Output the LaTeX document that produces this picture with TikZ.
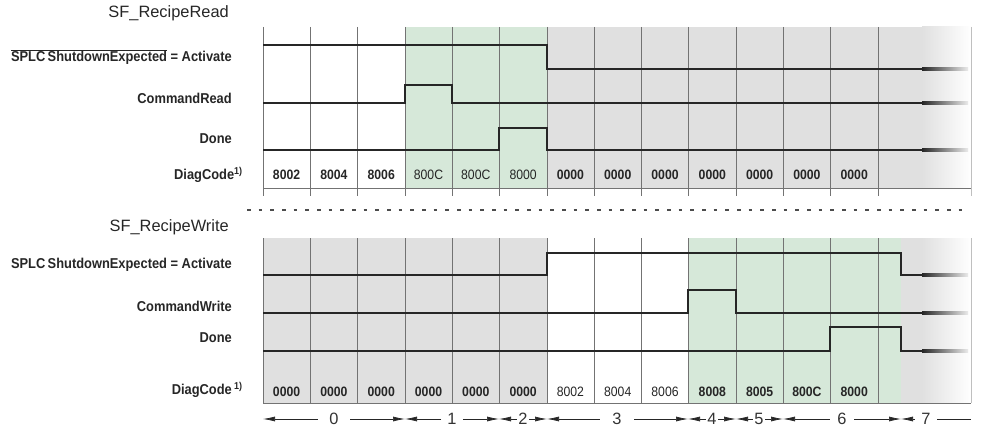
\documentclass[tikz,border=0pt]{standalone}
\usepackage{fontspec}
\setmainfont{Liberation Sans}
\newfontfamily\narrowsans[FakeStretch=0.9]{Liberation Sans}
\usetikzlibrary{arrows.meta}
\definecolor{phasegreen}{RGB}{214,232,217}
\definecolor{phasegrey}{RGB}{224,224,224}
\tikzset{
	sig/.style={line width=2.2pt, color=black!85},
	grid/.style={line width=0.7pt, color=black!55},
	siglabel/.style={anchor=east, inner sep=0pt, text=black!85, font=\narrowsans\fontsize{12.2}{13}\selectfont\bfseries},
	title/.style={anchor=east, inner sep=0pt, text=black!85, font=\fontsize{14}{16}\selectfont},
	code/.style={inner sep=0pt, text=black!85, font=\narrowsans\fontsize{11.6}{13}\selectfont\bfseries},
	codelight/.style={inner sep=0pt, text=black!85, font=\narrowsans\fontsize{11.6}{13}\selectfont},
	phase/.style={inner xsep=#1, inner ysep=0pt, text=black!80, font=\fontsize{14}{15}\selectfont},
	tlarrow/.style={-{Latex[length=3.6mm,width=1.5mm]}, line width=0.6pt, color=black!85},
	tlline/.style={line width=0.6pt, color=black!85},
}

\begin{document}
\begin{tikzpicture}[x=0.3mm, y=-0.3mm]
		%%%%% START %%%%%
		\useasboundingbox (0,0) rectangle (981,443);
		
		%%%%% SF_RecipeRead %%%%%
		\node[title] (rdtitle) at (229,13) {SF\_RecipeRead};
		
		\fill[phasegreen] (405,27) rectangle (547,188);
		\fill[phasegrey] (547,27) rectangle (922,188);
		\shade[left color=phasegrey, right color=white] (922,27) rectangle (971,188);
		
		\foreach \x in {263,310,357,405,452,499,547,594,641,688,736,783,830,878}
			\draw[grid] (\x,27) -- (\x,196);
		\draw[grid] (263,188) -- (971,188);
		\draw[line width=0.6pt, color=black!25] (971,27) -- (971,196);
		
		\node[siglabel] (rdsplc) at (232,57) {$\overline{\hbox{SPLC\,ShutdownExpected}}$ = Activate};
		\node[siglabel] (rdcmd) at (232,98) {CommandRead};
		\node[siglabel] (rddone) at (232,139) {Done};
		\node[siglabel] (rddiag) at (243,175) {DiagCode\textsuperscript{1)}};
		
		\draw[sig] (263,45) -- (547,45) -- (547,69) -- (922,69);
		\draw[sig] (263,103) -- (405,103) -- (405,85) -- (452,85) -- (452,103) -- (922,103);
		\draw[sig] (263,150) -- (499,150) -- (499,128) -- (547,128) -- (547,150) -- (922,150);
		\foreach \y in {69,103,150}
			\shade[left color=black!85, right color=black!8] (922,\y-1.3) rectangle (968,\y+1.3);
		
		\foreach \v [count=\k from 0] in {8002,8004,8006}
			\node[code] (rdc\k) at ({286.6+47.3*\k},175) {\v};
		\foreach \v [count=\k from 3] in {800C,800C,8000}
			\node[codelight] (rdc\k) at ({286.6+47.3*\k},175) {\v};
		\foreach \k in {6,...,12}
			\node[code] (rdc\k) at ({286.6+47.3*\k},175) {0000};
		
		\draw[line width=1.2pt, color=black!70, dash pattern=on 1.05mm off 2.45mm] (247,210) -- (963,210);
		
		%%%%% SF_RecipeWrite %%%%%
		\node[title] (wrtitle) at (229,227) {SF\_RecipeWrite};
		
		\fill[phasegrey] (263,238) rectangle (547,403);
		\fill[phasegreen] (688,238) rectangle (901,403);
		\fill[phasegrey] (901,238) rectangle (922,403);
		\shade[left color=phasegrey, right color=white] (922,238) rectangle (971,403);
		
		\foreach \x in {263,310,357,405,452,499,547,594,641,688,736,783,830,878}
			\draw[grid] (\x,238) -- (\x,403);
		\draw[grid] (263,403) -- (971,403);
		\draw[line width=0.6pt, color=black!25] (971,238) -- (971,403);
		
		\node[siglabel] (wrsplc) at (232,265) {SPLC\,ShutdownExpected = Activate};
		\node[siglabel] (wrcmd) at (232,306) {CommandWrite};
		\node[siglabel] (wrdone) at (232,338) {Done};
		\node[siglabel] (wrdiag) at (243,390) {DiagCode\,\textsuperscript{1)}};
		
		\draw[sig] (263,275) -- (547,275) -- (547,253) -- (901,253) -- (901,275) -- (922,275);
		\draw[sig] (263,313) -- (688,313) -- (688,290) -- (736,290) -- (736,313) -- (922,313);
		\draw[sig] (263,351) -- (830,351) -- (830,327) -- (901,327) -- (901,351) -- (922,351);
		\foreach \y in {275,313,351}
			\shade[left color=black!85, right color=black!8] (922,\y-1.3) rectangle (968,\y+1.3);
		
		\foreach \k in {0,...,5}
			\node[code] (wrc\k) at ({286.6+47.3*\k},392) {0000};
		\foreach \v [count=\k from 6] in {8002,8004,8006}
			\node[codelight] (wrc\k) at ({286.6+47.3*\k},392) {\v};
		\foreach \v [count=\k from 9] in {8008,8005,800C,8000}
			\node[code] (wrc\k) at ({286.6+47.3*\k},392) {\v};
		
		%%%%% phases %%%%%
		\coordinate (b0) at (263,419);
		\coordinate (b1) at (405,419);
		\coordinate (b2) at (499,419);
		\coordinate (b3) at (547,419);
		\coordinate (b4) at (688,419);
		\coordinate (b5) at (736,419);
		\coordinate (b6) at (783,419);
		\coordinate (b7) at (901,419);
		\coordinate (e7) at (971,419);
		
		\node[phase=3.5mm] (t0) at (334,419) {0};
		\node[phase=1.8mm] (t1) at (452,419) {1};
		\node[phase=0.4mm] (t2) at (523,419) {2};
		\node[phase=3.8mm] (t3) at (617,419) {3};
		\node[phase=0.4mm] (t4) at (712,419) {4};
		\node[phase=0.4mm] (t5) at (759,419) {5};
		\node[phase=2.3mm] (t6) at (842,419) {6};
		\node[phase=2mm] (t7) at (926,419) {7};
		
		\draw[tlarrow] (t0) -- (b0);
		\draw[tlarrow] (t0) -- (b1);
		\draw[tlarrow] (t1) -- (b1);
		\draw[tlarrow] (t1) -- (b2);
		\draw[tlarrow] (t2) -- (b2);
		\draw[tlarrow] (t2) -- (b3);
		\draw[tlarrow] (t3) -- (b3);
		\draw[tlarrow] (t3) -- (b4);
		\draw[tlarrow] (t4) -- (b4);
		\draw[tlarrow] (t4) -- (b5);
		\draw[tlarrow] (t5) -- (b5);
		\draw[tlarrow] (t5) -- (b6);
		\draw[tlarrow] (t6) -- (b6);
		\draw[tlarrow] (t6) -- (b7);
		\draw[tlarrow] (t7) -- (b7);
		\draw[tlline] (t7) -- (e7);
		
		%%%%% END %%%%%
\end{tikzpicture}
\end{document}
